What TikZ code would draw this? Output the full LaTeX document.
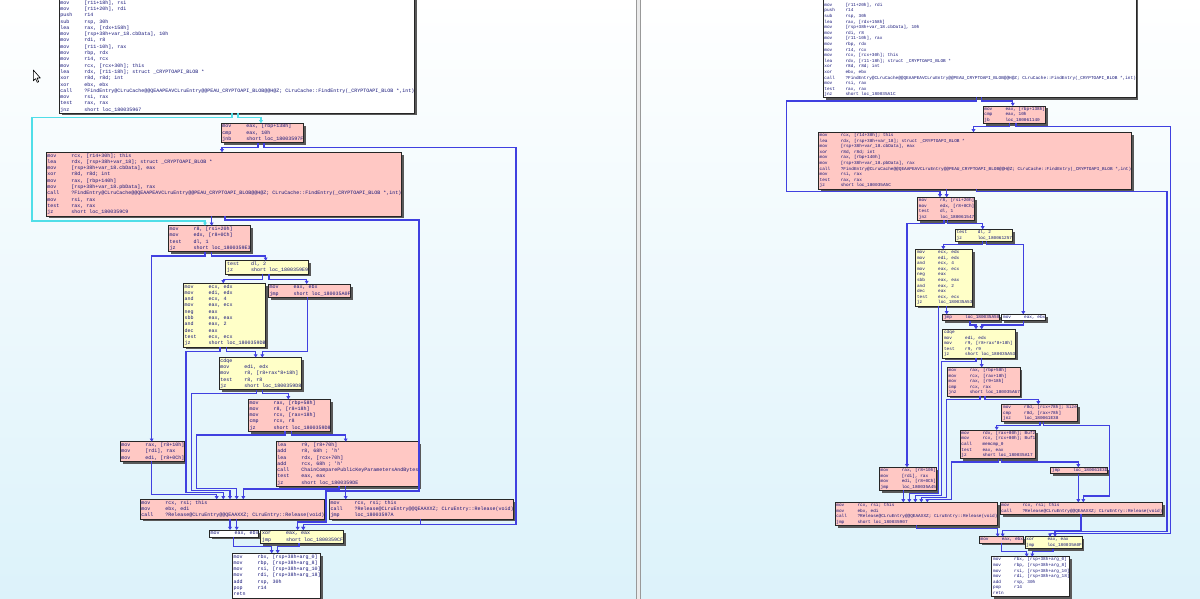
\documentclass[tikz,border=0pt]{standalone}
\usepackage{fontspec}
\newfontfamily\codefont{Liberation Mono}[Ligatures=TeXOff]
\usetikzlibrary{arrows.meta,shadows}
\definecolor{edgeblue}{RGB}{64,64,224}
\definecolor{edgecyan}{RGB}{80,222,232}
\definecolor{pinkfill}{RGB}{255,200,196}
\definecolor{yellowfill}{RGB}{255,255,200}
\definecolor{codeblue}{RGB}{20,20,120}
\definecolor{bgbot}{RGB}{220,242,250}
\newlength\mcol
\newcommand\strutht{4.4pt}
\newcommand\strutdp{1.9pt}
\newcommand\Lfont{\codefont\fontsize{5}{6.3}\selectfont\setlength\mcol{24pt}\renewcommand\strutht{4.4pt}\renewcommand\strutdp{1.9pt}}
\newcommand\Rfont{\codefont\fontsize{4.4}{5.6}\selectfont\setlength\mcol{21.1pt}\renewcommand\strutht{3.9pt}\renewcommand\strutdp{1.7pt}}
\newcommand\AL[2]{\hbox{\hspace{1.4pt}\rule[-\strutdp]{0pt}{\dimexpr\strutht+\strutdp\relax}\makebox[\mcol][l]{#1}#2}}
\newcommand\blk[4][0.3]{\parbox[c][#3pt][t]{#2pt}{\vspace*{#1pt}#4}}
\newcommand\FE{?FindEntry@CLruCache@@QEAAPEAVCLruEntry@@PEAU\_CRYPTOAPI\_BLOB@@H@Z; CLruCache::FindEntry(\_CRYPTOAPI\_BLOB *,int)}
\newcommand\RE{?Release@CLruEntry@@QEAAXXZ; CLruEntry::Release(void)}
\begin{document}
\begin{tikzpicture}[x=1pt,y=-1pt,
  block/.style={draw=black!85, line width=0.6pt, inner sep=0pt, outer sep=0pt, anchor=north west, text=codeblue,
    general shadow={fill=black!65, shadow xshift=2.5pt, shadow yshift=-2.5pt}},
  wb/.style={block, fill=white},
  pb/.style={block, fill=pinkfill},
  yb/.style={block, fill=yellowfill},
  cedge/.style={draw=edgeblue, line width=1.1pt, -{Triangle[width=3.8pt,length=3.2pt]}},
  cyedge/.style={draw=edgecyan, line width=1.2pt, -{Triangle[width=3.8pt,length=3.2pt]}}]
\useasboundingbox (0,0) rectangle (1200,599);
\clip (0,0) rectangle (1200,599);
% background
\shade[top color=white, bottom color=bgbot] (0,0) rectangle (636,599);
\shade[top color=white, bottom color=bgbot] (641,0) rectangle (1200,599);
\fill[black!8] (636,0) rectangle (641,599);
\draw[black!40, line width=1.2pt] (636.6,0) -- (636.6,599);
\draw[black!40, line width=1.2pt] (640.6,0) -- (640.6,599);

% ===================== LEFT PANEL =====================
\node[wb] (L1) at (59,-6) {\blk[5.8]{351}{119}{\Lfont
\AL{mov}{[r11+18h], rsi}
\AL{mov}{[r11+20h], rdi}
\AL{push}{r14}
\AL{sub}{rsp, 30h}
\AL{lea}{rax, [rdx+158h]}
\AL{mov}{[rsp+38h+var\_18.cbData], 10h}
\AL{mov}{rdi, r8}
\AL{mov}{[r11-10h], rax}
\AL{mov}{rbp, rdx}
\AL{mov}{r14, rcx}
\AL{mov}{rcx, [rcx+30h]; this}
\AL{lea}{rdx, [r11-18h]; struct \_CRYPTOAPI\_BLOB *}
\AL{xor}{r8d, r8d; int}
\AL{xor}{ebx, ebx}
\AL{call}{\FE}
\AL{mov}{rsi, rax}
\AL{test}{rax, rax}
\AL{jnz}{short loc\_180035967}}};
\node[pb] (L2) at (221,123.3) {\blk{81}{19.5}{\Lfont
\AL{mov}{eax, [rbp+138h]}
\AL{cmp}{eax, 10h}
\AL{jnb}{short loc\_18003597F}}};
\node[pb] (L3) at (46,152.3) {\blk{351}{63.6}{\Lfont
\AL{mov}{rcx, [r14+30h]; this}
\AL{lea}{rdx, [rsp+38h+var\_18]; struct \_CRYPTOAPI\_BLOB *}
\AL{mov}{[rsp+38h+var\_18.cbData], eax}
\AL{xor}{r8d, r8d; int}
\AL{mov}{rax, [rbp+140h]}
\AL{mov}{[rsp+38h+var\_18.pbData], rax}
\AL{call}{\FE}
\AL{mov}{rsi, rax}
\AL{test}{rax, rax}
\AL{jz}{short loc\_1800359C9}}};
\node[pb] (L4) at (168.3,225.7) {\blk{81}{25.8}{\Lfont
\AL{mov}{r8, [rsi+20h]}
\AL{mov}{edx, [r8+0Ch]}
\AL{test}{dl, 1}
\AL{jz}{short loc\_1800359E3}}};
\node[yb] (L5) at (225.7,260.7) {\blk{80.5}{13.2}{\Lfont
\AL{test}{dl, 2}
\AL{jz}{short loc\_1800359E9}}};
\node[yb] (L6) at (183.3,283.3) {\blk{81}{63.6}{\Lfont
\AL{mov}{ecx, edx}
\AL{mov}{edi, edx}
\AL{and}{ecx, 4}
\AL{mov}{eax, ecx}
\AL{neg}{eax}
\AL{sbb}{eax, eax}
\AL{and}{eax, 2}
\AL{dec}{eax}
\AL{test}{ecx, ecx}
\AL{jz}{short loc\_1800359DB}}};
\node[pb] (L7) at (268.3,284) {\blk{80}{13.2}{\Lfont
\AL{mov}{eax, ebx}
\AL{jmp}{short loc\_180035A0F}}};
\node[yb] (L8) at (219,357.5) {\blk{81}{32.1}{\Lfont
\AL{cdqe}{}
\AL{mov}{edi, edx}
\AL{mov}{r8, [r8+rax*8+18h]}
\AL{test}{r8, r8}
\AL{jz}{short loc\_1800359D8}}};
\node[pb] (L9) at (248.3,399.3) {\blk{81}{32.1}{\Lfont
\AL{mov}{rax, [rbp+58h]}
\AL{mov}{r8, [r8+18h]}
\AL{mov}{rcx, [rax+18h]}
\AL{cmp}{rcx, r8}
\AL{jz}{short loc\_1800359D8}}};
\node[pb] (L10) at (276,441.7) {\blk{141}{44.7}{\Lfont
\AL{lea}{r9, [r8+70h]}
\AL{add}{r8, 68h ; 'h'}
\AL{lea}{rdx, [rcx+70h]}
\AL{add}{rcx, 68h ; 'h'}
\AL{call}{ChainComparePublicKeyParametersAndBytes}
\AL{test}{eax, eax}
\AL{jz}{short loc\_1800359DE}}};
\node[pb] (L11) at (120,441.7) {\blk{63}{19.5}{\Lfont
\AL{mov}{rax, [r8+10h]}
\AL{mov}{[rdi], rax}
\AL{mov}{edi, [r8+0Ch]}}};
\node[pb] (L12) at (140,499.3) {\blk{183}{19.5}{\Lfont
\AL{mov}{rcx, rsi; this}
\AL{mov}{ebx, edi}
\AL{call}{\RE}}};
\node[pb] (L13) at (329.3,499.3) {\blk{183}{19.5}{\Lfont
\AL{mov}{rcx, rsi; this}
\AL{call}{\RE}
\AL{jmp}{loc\_18003597A}}};
\node[wb] (L14) at (209.3,530) {\blk{49}{6.9}{\Lfont
\AL{mov}{eax, ebx}}};
\node[yb] (L15) at (260.7,530) {\blk{81}{13.2}{\Lfont
\AL{xor}{eax, eax}
\AL{jmp}{short loc\_1800359CF}}};
\node[wb] (L16) at (232.3,553.3) {\blk{87}{44.7}{\Lfont
\AL{mov}{rbx, [rsp+38h+arg\_0]}
\AL{mov}{rbp, [rsp+38h+arg\_8]}
\AL{mov}{rsi, [rsp+38h+arg\_10]}
\AL{mov}{rdi, [rsp+38h+arg\_18]}
\AL{add}{rsp, 30h}
\AL{pop}{r14}
\AL{retn}{}}};

% left edges
\draw[cyedge] (238,0 |- L1.south) |- (261,117.7) -- (261,0 |- L2.north);
\draw[cyedge] (232,0 |- L1.south) |- (32,117.7) |- (205,221) -- (205,0 |- L4.north);
\draw[cedge] (258,0 |- L2.south) |- (222,147.3) -- (222,0 |- L3.north);
\draw[cedge] (264,0 |- L2.south) |- (516,147.3) |- (303.3,524.5) -- (303.3,0 |- L15.north);
\draw[cedge] (211.7,0 |- L3.south) -- (211.7,0 |- L4.north);
\draw[cedge] (225,0 |- L3.south) |- (419,220) |- (326,491) |- (297.7,522) -- (297.7,0 |- L15.north);
\draw[cedge] (420.7,0 |- L13.south) |- (303.3,524.5) -- (303.3,0 |- L15.north);
\draw[cedge] (205,0 |- L4.south) |- (151.7,256) -- (151.7,0 |- L11.north);
\draw[cedge] (211.7,0 |- L4.south) |- (265.7,256) -- (265.7,0 |- L5.north);
\draw[cedge] (262.7,0 |- L5.south) |- (223.3,279.3) -- (223.3,0 |- L6.north);
\draw[cedge] (269,0 |- L5.south) |- (306.7,279.3) -- (306.7,0 |- L7.north);
\draw[cedge] (220,0 |- L6.south) |- (186,351.7) |- (223.3,492.5) -- (223.3,0 |- L12.north);
\draw[cedge] (226.7,0 |- L6.south) |- (255.7,351.7) -- (255.7,0 |- L8.north);
\draw[cedge] (307.3,0 |- L7.south) |- (262.3,351.7) -- (262.3,0 |- L8.north);
\draw[cedge] (256.7,0 |- L8.south) |- (191.7,393.3) |- (230,490.5) -- (230,0 |- L12.north);
\draw[cedge] (262.7,0 |- L8.south) |- (288.3,393.3) -- (288.3,0 |- L9.north);
\draw[cedge] (285,0 |- L9.south) |- (196.7,435) |- (236.7,488.5) -- (236.7,0 |- L12.north);
\draw[cedge] (291.7,0 |- L9.south) |- (345.7,435) -- (345.7,0 |- L10.north);
\draw[cedge] (339,0 |- L10.south) |- (243.3,489) -- (243.3,0 |- L12.north);
\draw[cedge] (345.7,0 |- L10.south) -- (345.7,0 |- L13.north);
\draw[cedge] (151.7,0 |- L11.south) |- (216.7,494.5) -- (216.7,0 |- L12.north);
\draw[cedge] (230,0 |- L12.south) -- (230,0 |- L14.north);
\draw[cedge] (236.7,0 |- L12.south) -- (236.7,0 |- L14.north);
\draw[cedge] (233.3,0 |- L14.south) |- (271.7,546.7) -- (271.7,0 |- L16.north);
\draw[cedge] (299,0 |- L15.south) |- (277.7,546.7) -- (277.7,0 |- L16.north);

% mouse cursor
\draw[fill=white, line width=0.6pt, line join=round] (33.3,70) -- (33.3,80.8) -- (35.6,78.6) -- (37.2,82.3) -- (38.7,81.7) -- (37.1,78) -- (40.3,78) -- cycle;

% ===================== RIGHT PANEL =====================
\node[wb] (R1) at (823,-8) {\blk[10.4]{313}{105.4}{\Rfont
\AL{mov}{[r11+20h], rdi}
\AL{push}{r14}
\AL{sub}{rsp, 30h}
\AL{lea}{rax, [rdx+158h]}
\AL{mov}{[rsp+38h+var\_18.cbData], 10h}
\AL{mov}{rdi, r8}
\AL{mov}{[r11-10h], rax}
\AL{mov}{rbp, rdx}
\AL{mov}{r14, rcx}
\AL{mov}{rcx, [rcx+30h]; this}
\AL{lea}{rdx, [r11-18h]; struct \_CRYPTOAPI\_BLOB *}
\AL{xor}{r8d, r8d; int}
\AL{xor}{ebx, ebx}
\AL{call}{\FE}
\AL{mov}{rsi, rax}
\AL{test}{rax, rax}
\AL{jnz}{short loc\_180035A1C}}};
\node[pb] (R2) at (983,106) {\blk{61}{17.4}{\Rfont
\AL{mov}{eax, [rbp+138h]}
\AL{cmp}{eax, 10h}
\AL{jb}{loc\_180061140}}};
\node[pb] (R3) at (818.3,132.3) {\blk{313}{56.6}{\Rfont
\AL{mov}{rcx, [r14+30h]; this}
\AL{lea}{rdx, [rsp+38h+var\_18]; struct \_CRYPTOAPI\_BLOB *}
\AL{mov}{[rsp+38h+var\_18.cbData], eax}
\AL{xor}{r8d, r8d; int}
\AL{mov}{rax, [rbp+140h]}
\AL{mov}{[rsp+38h+var\_18.pbData], rax}
\AL{call}{\FE}
\AL{mov}{rsi, rax}
\AL{test}{rax, rax}
\AL{jz}{short loc\_180035A5C}}};
\node[pb] (R4) at (917.5,197.3) {\blk{56}{23}{\Rfont
\AL{mov}{r8, [rsi+20h]}
\AL{mov}{edx, [r8+0Ch]}
\AL{test}{dl, 1}
\AL{jnz}{loc\_180061547}}};
\node[yb] (R5) at (955.3,229.3) {\blk{56.4}{11.8}{\Rfont
\AL{test}{dl, 2}
\AL{jz}{loc\_180061257}}};
\node[yb] (R6) at (915.7,249.3) {\blk{55.6}{56.6}{\Rfont
\AL{mov}{ecx, edx}
\AL{mov}{edi, edx}
\AL{and}{ecx, 4}
\AL{mov}{eax, ecx}
\AL{neg}{eax}
\AL{sbb}{eax, eax}
\AL{and}{eax, 2}
\AL{dec}{eax}
\AL{test}{ecx, ecx}
\AL{jz}{loc\_180035A53}}};
\node[pb] (R7) at (942.7,314.3) {\blk{55.6}{6.2}{\Rfont
\AL{jmp}{loc\_180035A50}}};
\node[wb] (R8) at (1001.7,314.3) {\blk{43.3}{6.2}{\Rfont
\AL{mov}{eax, ebx}}};
\node[yb] (R9) at (942.7,329.3) {\blk{71.6}{28.6}{\Rfont
\AL{cdqe}{}
\AL{mov}{edi, edx}
\AL{mov}{r9, [r8+rax*8+18h]}
\AL{test}{r9, r9}
\AL{jz}{short loc\_180035A53}}};
\node[pb] (R10) at (947.3,367.3) {\blk{71.7}{28.6}{\Rfont
\AL{mov}{rax, [rbp+58h]}
\AL{mov}{rcx, [rax+18h]}
\AL{mov}{rax, [r9+18h]}
\AL{cmp}{rcx, rax}
\AL{jnz}{short loc\_180035A67}}};
\node[pb] (R11) at (1001.7,404.3) {\blk{74.3}{17.4}{\Rfont
\AL{mov}{r8d, [rcx+78h]; Size}
\AL{cmp}{r8d, [rax+78h]}
\AL{jnz}{loc\_180061E38}}};
\node[pb] (R12) at (960,430) {\blk{74.3}{28.6}{\Rfont
\AL{mov}{rdx, [rax+80h]; Buf2}
\AL{mov}{rcx, [rcx+80h]; Buf1}
\AL{call}{memcmp\_0}
\AL{test}{eax, eax}
\AL{jz}{short loc\_180035A17}}};
\node[pb] (R13) at (1050.7,467.3) {\blk{57}{6.2}{\Rfont
\AL{jmp}{loc\_180061E3D}}};
\node[pb] (R14) at (879.3,467.3) {\blk{56.7}{23}{\Rfont
\AL{mov}{rax, [r8+10h]}
\AL{mov}{[rdi], rax}
\AL{mov}{edi, [r8+0Ch]}
\AL{jmp}{loc\_180035A45}}};
\node[pb] (R15) at (835,502.3) {\blk{162.3}{23}{\Rfont
\AL{mov}{rcx, rsi; this}
\AL{mov}{ebx, edi}
\AL{call}{\RE}
\AL{jmp}{short loc\_180035907}}};
\node[pb] (R16) at (1000,502.3) {\blk{162.7}{11.8}{\Rfont
\AL{mov}{rcx, rsi; this}
\AL{call}{\RE}}};
\node[pb] (R17) at (979.3,536.7) {\blk{43}{6.2}{\Rfont
\AL{mov}{eax, ebx}}};
\node[yb] (R18) at (1025,536.7) {\blk{56.7}{11.8}{\Rfont
\AL{xor}{eax, eax}
\AL{jmp}{loc\_180035A0F}}};
\node[wb] (R19) at (991.7,556.7) {\blk{77.6}{39.8}{\Rfont
\AL{mov}{rbx, [rsp+38h+arg\_0]}
\AL{mov}{rbp, [rsp+38h+arg\_8]}
\AL{mov}{rsi, [rsp+38h+arg\_10]}
\AL{mov}{rdi, [rsp+38h+arg\_18]}
\AL{add}{rsp, 30h}
\AL{pop}{r14}
\AL{retn}{}}};

% right edges
\draw[cedge] (981.9,0 |- R1.south) |- (1012.8,101) -- (1012.8,0 |- R2.north);
\draw[cedge] (976.4,0 |- R1.south) |- (786.3,101) |- (940,191.7) -- (940,0 |- R4.north);
\draw[cedge] (1009.9,0 |- R2.south) |- (973.5,126.7) -- (973.5,0 |- R3.north);
\draw[cedge] (1016,0 |- R2.south) |- (1170.5,126.7) |- (1050,533.8) -- (1050,0 |- R18.north);
\draw[cedge] (946.7,0 |- R3.south) -- (946.7,0 |- R4.north);
\draw[cedge] (976.7,0 |- R3.south) |- (1167,191.7) |- (1055,531.5) -- (1055,0 |- R18.north);
\draw[cedge] (944,0 |- R4.south) |- (907,223.6) -- (907,0 |- R14.north);
\draw[cedge] (947.5,0 |- R4.south) |- (982.7,223.6) -- (982.7,0 |- R5.north);
\draw[cedge] (982.7,0 |- R5.south) |- (943.3,244.3) -- (943.3,0 |- R6.north);
\draw[cedge] (986.7,0 |- R5.south) |- (1023.3,244.3) -- (1023.3,0 |- R8.north);
\draw[cedge] (946.7,0 |- R6.south) -- (946.7,0 |- R7.north);
\draw[cedge] (938.3,0 |- R6.south) |- (909.3,493.5) -- (909.3,0 |- R15.north);
\draw[cedge] (970,0 |- R7.south) |- (976,325) -- (976,0 |- R9.north);
\draw[cedge] (1023.3,0 |- R8.south) |- (981.7,325) -- (981.7,0 |- R9.north);
\draw[cedge] (981.7,0 |- R9.south) -- (981.7,0 |- R10.north);
\draw[cedge] (976,0 |- R9.south) |- (941.7,361.5) |- (915.3,495.5) -- (915.3,0 |- R15.north);
\draw[cedge] (985,0 |- R10.south) |- (1038.3,399.8) -- (1038.3,0 |- R11.north);
\draw[cedge] (980,0 |- R10.south) |- (946.7,399.8) |- (921.3,497.5) -- (921.3,0 |- R15.north);
\draw[cedge] (1040,0 |- R11.south) |- (996.7,425.3) -- (996.7,0 |- R12.north);
\draw[cedge] (1043.5,0 |- R11.south) |- (1109.3,425.3) |- (1083.3,496) -- (1083.3,0 |- R16.north);
\draw[cedge] (1001.7,0 |- R12.south) |- (1078.3,462) -- (1078.3,0 |- R13.north);
\draw[cedge] (998.3,0 |- R12.south) |- (951.7,462) |- (927.3,499.5) -- (927.3,0 |- R15.north);
\draw[cedge] (1078.3,0 |- R13.south) -- (1078.3,0 |- R16.north);
\draw[cedge] (903.3,0 |- R14.south) -- (903.3,0 |- R15.north);
\draw[cedge] (916.7,0 |- R15.south) |- (997.7,528.3) -- (997.7,0 |- R17.north);
\draw[cedge] (1081,0 |- R16.south) |- (1002.7,530.3) -- (1002.7,0 |- R17.north);
\draw[cedge] (1001.7,0 |- R17.south) |- (1026.7,551.3) -- (1026.7,0 |- R19.north);
\draw[cedge] (1053,0 |- R18.south) |- (1032.3,551.3) -- (1032.3,0 |- R19.north);
\end{tikzpicture}
\end{document}
